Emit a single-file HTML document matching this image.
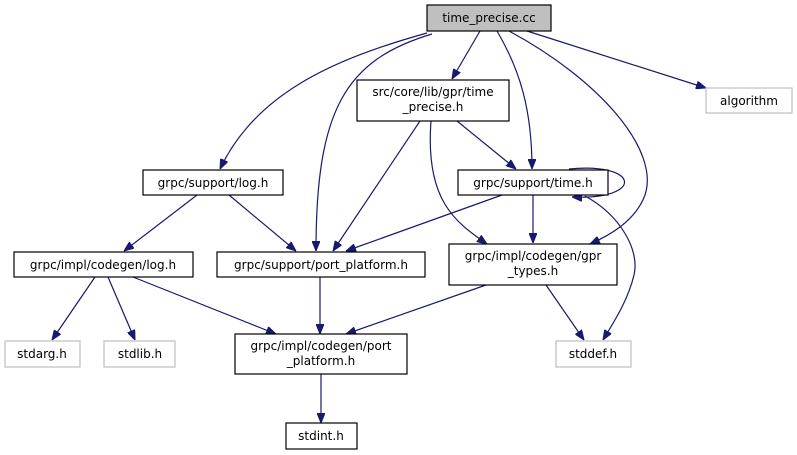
<!DOCTYPE html>
<html><head><meta charset="utf-8"><style>
html,body{margin:0;padding:0;background:#fff}
svg{display:block}
text{font-family:"DejaVu Sans","Liberation Sans",sans-serif;font-size:12px;fill:#000}
.e{fill:none;stroke:#191970;stroke-width:1.2}
.n{fill:#fff;stroke:#000;stroke-width:1.2}
.g{fill:#fff;stroke:#bfbfbf;stroke-width:1.2}
</style></head><body>
<svg width="797" height="455" viewBox="0 0 797 455" xmlns="http://www.w3.org/2000/svg">
<defs><marker id="a" markerWidth="10" markerHeight="8" refX="10" refY="4" orient="auto" markerUnits="userSpaceOnUse"><path d="M0,0 L10,4 L0,8 Z" fill="#191970" stroke="#191970"/></marker></defs>
<g marker-end="url(#a)">
<path class="e" d="M480,31 L452,79"/>
<path class="e" d="M427,33 C330,60 255,95 220,169"/>
<path class="e" d="M432,34 C345,60 316,110 316,251"/>
<path class="e" d="M497,31 C520,70 532,110 532,169"/>
<path class="e" d="M509,31 C600,80 660,150 645,195 C635,222 608,236 590,244"/>
<path class="e" d="M527,31 L706,88"/>
<path class="e" d="M457,121 L516,169"/>
<path class="e" d="M420,121 L333,251"/>
<path class="e" d="M431,121 C425,200 455,222 487,244"/>
<path class="e" d="M197,195 L124,251"/>
<path class="e" d="M229,195 L296,251"/>
<path class="e" d="M502,195 L346,251"/>
<path class="e" d="M533,195 L533,243"/>
<path class="e" d="M569,169 C640,162 645,200 572,197"/>
<path class="e" d="M585,196 C620,215 640,250 634,275 C628,300 615,320 603,340"/>
<path class="e" d="M546,285 L584,340"/>
<path class="e" d="M486,285 L346,334"/>
<path class="e" d="M95,277 L52,340"/>
<path class="e" d="M108,277 L135,340"/>
<path class="e" d="M133,277 L276,334"/>
<path class="e" d="M320,277 L320,334"/>
<path class="e" d="M321,374 L321,423"/>
</g>
<rect x="427" y="5" width="124" height="26" fill="#bfbfbf" stroke="#000" stroke-width="1.2"/>
<text x="489" y="22" text-anchor="middle">time_precise.cc</text>
<rect class="n" x="357" y="80" width="152" height="41"/>
<text x="433" y="96" text-anchor="middle">src/core/lib/gpr/time</text>
<text x="433" y="111" text-anchor="middle">_precise.h</text>
<rect class="g" x="706" y="88" width="86" height="25"/>
<text x="749" y="105" text-anchor="middle">algorithm</text>
<rect class="n" x="143" y="170" width="140" height="25"/>
<text x="213" y="187" text-anchor="middle">grpc/support/log.h</text>
<rect class="n" x="458" y="170" width="150" height="25"/>
<text x="533" y="187" text-anchor="middle">grpc/support/time.h</text>
<rect class="n" x="14" y="252" width="179" height="25"/>
<text x="103" y="269" text-anchor="middle">grpc/impl/codegen/log.h</text>
<rect class="n" x="217" y="252" width="208" height="25"/>
<text x="321" y="269" text-anchor="middle">grpc/support/port_platform.h</text>
<rect class="n" x="449" y="244" width="168" height="41"/>
<text x="533" y="260" text-anchor="middle">grpc/impl/codegen/gpr</text>
<text x="533" y="275" text-anchor="middle">_types.h</text>
<rect class="g" x="5" y="341" width="75" height="26"/>
<text x="42" y="358" text-anchor="middle">stdarg.h</text>
<rect class="g" x="104" y="341" width="71" height="26"/>
<text x="140" y="358" text-anchor="middle">stdlib.h</text>
<rect class="n" x="235" y="334" width="172" height="40"/>
<text x="321" y="350" text-anchor="middle">grpc/impl/codegen/port</text>
<text x="321" y="365" text-anchor="middle">_platform.h</text>
<rect class="g" x="556" y="341" width="75" height="26"/>
<text x="593" y="358" text-anchor="middle">stddef.h</text>
<rect class="n" x="286" y="423" width="71" height="26"/>
<text x="321" y="440" text-anchor="middle">stdint.h</text>
</svg>
</body></html>
